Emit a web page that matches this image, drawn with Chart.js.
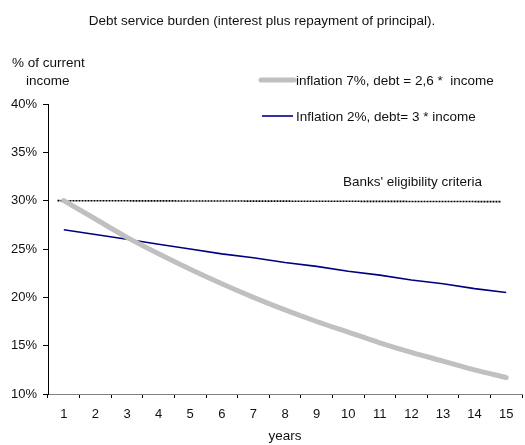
<!DOCTYPE html>
<html>
<head>
<meta charset="utf-8">
<script src="https://cdn.jsdelivr.net/npm/chart.js@4/dist/chart.umd.min.js"></script>
<style>
  html, body { margin: 0; padding: 0; background: #fff; }
  #wrap { width: 525px; height: 445px; }
</style>
</head>
<body>
<div id="wrap"><canvas id="chart" width="525" height="445"></canvas></div>
<script>
// Years of the loan
const years = ['1', '2', '3', '4', '5', '6', '7', '8', '9', '10', '11', '12', '13', '14', '15'];

// Debt service as % of current income
const inflation7Debt26 = [30.0, 28.1, 26.2, 24.5, 22.9, 21.4, 20.0, 18.7, 17.5, 16.4, 15.3, 14.3, 13.4, 12.5, 11.7];
const inflation2Debt3  = [27.0, 26.5, 26.0, 25.5, 25.0, 24.5, 24.1, 23.6, 23.2, 22.7, 22.3, 21.8, 21.4, 20.9, 20.5];

// Banks' eligibility threshold (start / end of the reference line, in year units)
const criteriaYears  = [0.8, 14.85];
const criteriaValues = [30.0, 29.9];

// Y axis range and step (percent)
const yMin = 10, yMax = 40, yStep = 5;

const seriesLabels = ['inflation 7%, debt = 2,6 *  income', 'Inflation 2%, debt= 3 * income'];
const criteriaLabel = "Banks' eligibility criteria";
const chartTitle = 'Debt service burden (interest plus repayment of principal).';
const yTitle = ['% of current', 'income'];
const xTitle = 'years';

const FONT = "'Liberation Sans', Arial, sans-serif";
const TEXT = '#111';
const LABEL_SIZE = 13.5;

// Free-standing texts and the legend
const annotations = {
  id: 'annotations',
  afterDraw(chart) {
    const ctx = chart.ctx;
    ctx.save();
    ctx.fillStyle = TEXT;
    ctx.textBaseline = 'middle';
    ctx.font = LABEL_SIZE + 'px ' + FONT;

    ctx.textAlign = 'center';
    ctx.fillText(chartTitle, 262, 21);

    ctx.textAlign = 'left';
    ctx.fillText(yTitle[0], 12, 63);
    ctx.fillText(yTitle[1], 26, 81);

    // legend
    const ds = chart.data.datasets;
    const rows = [{ y: 80, x0: 261, x1: 294, d: ds[0] }, { y: 116, x0: 262, x1: 293, d: ds[1] }];
    rows.forEach((r, i) => {
      ctx.beginPath();
      ctx.strokeStyle = r.d.borderColor;
      ctx.lineWidth = r.d.borderWidth;
      ctx.lineCap = i === 0 ? 'round' : 'butt';
      ctx.moveTo(r.x0, r.y);
      ctx.lineTo(r.x1, r.y);
      ctx.stroke();
      ctx.fillStyle = TEXT;
      ctx.fillText(seriesLabels[i], 296, r.y + 1);
    });

    ctx.fillText(criteriaLabel, 343, 182);
    ctx.restore();
  }
};

new Chart(document.getElementById('chart'), {
  type: 'line',
  data: {
    labels: years,
    datasets: [
      {
        label: seriesLabels[0],
        data: inflation7Debt26,
        xAxisID: 'x',
        borderColor: '#c0c0c0',
        borderWidth: 5,
        borderCapStyle: 'round',
        cubicInterpolationMode: 'monotone',
        pointRadius: 0,
        fill: false
      },
      {
        label: seriesLabels[1],
        data: inflation2Debt3,
        xAxisID: 'x',
        borderColor: '#000080',
        borderWidth: 1.6,
        tension: 0,
        pointRadius: 0,
        fill: false
      },
      {
        label: criteriaLabel,
        data: criteriaYears.map((x, i) => ({ x: x, y: criteriaValues[i] })),
        xAxisID: 'xl',
        borderColor: '#000',
        borderWidth: 1.6,
        borderDash: [2, 1],
        pointRadius: 0,
        fill: false
      }
    ]
  },
  options: {
    responsive: false,
    devicePixelRatio: 1,
    animation: false,
    layout: { padding: { top: 104, right: 3, left: 0, bottom: 0 } },
    plugins: { legend: { display: false }, title: { display: false }, tooltip: { enabled: false } },
    scales: {
      x: {
        type: 'category',
        offset: true,
        grid: { offset: true, drawOnChartArea: false, drawTicks: true, tickLength: 4, color: '#000' },
        border: { display: true, color: '#808080', width: 1 },
        ticks: { color: TEXT, font: { family: FONT, size: 13 }, padding: 9, maxRotation: 0, autoSkip: false },
        title: { display: true, text: xTitle, color: TEXT, font: { family: FONT, size: LABEL_SIZE }, padding: { top: 0, bottom: 1 } },
        afterFit(s) { s.height = 51; }
      },
      xl: {
        type: 'linear',
        display: false,
        min: 0.5,
        max: 15.5
      },
      y: {
        min: yMin,
        max: yMax,
        ticks: { stepSize: yStep, color: TEXT, font: { family: FONT, size: 13 }, padding: 6, callback: v => v + '%' },
        grid: { drawOnChartArea: false, drawTicks: true, tickLength: 5, color: '#000' },
        border: { display: true, color: '#000', width: 1 },
        afterFit(s) { s.width = 48; }
      }
    }
  },
  plugins: [annotations]
});
</script>
</body>
</html>
